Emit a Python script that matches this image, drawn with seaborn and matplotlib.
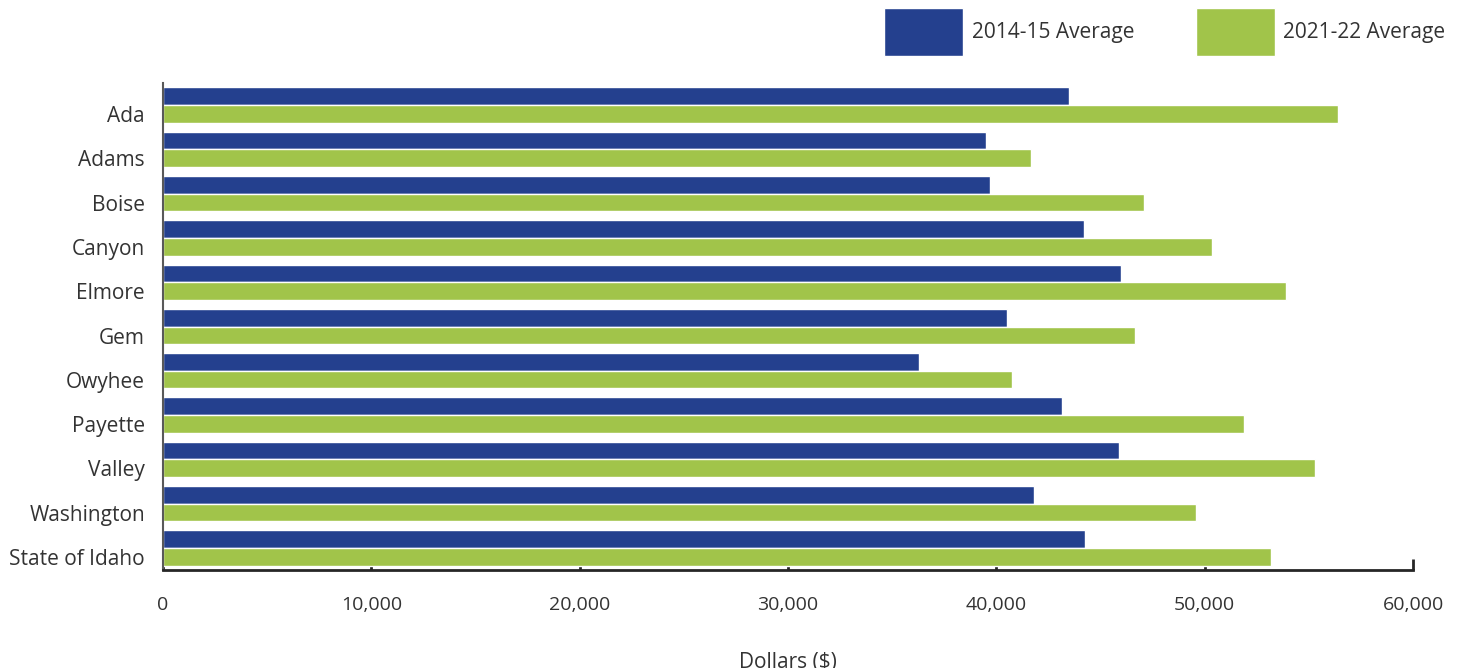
import numpy as np
import pandas as pd
import matplotlib
matplotlib.use("Agg")
import matplotlib.pyplot as plt
import matplotlib.transforms as mtransforms
from matplotlib.ticker import FuncFormatter
from matplotlib.patches import Patch
import seaborn as sns

# === Data ===
counties = ["Ada", "Adams", "Boise", "Canyon", "Elmore", "Gem", "Owyhee",
            "Payette", "Valley", "Washington", "State of Idaho"]
avg_2014_15 = [43500, 39500, 39700, 44200, 46000, 40500, 36300, 43150, 45900, 41800, 44250]
avg_2021_22 = [56400, 41650, 47100, 50350, 53900, 46650, 40750, 51900, 55300, 49600, 53200]
series_names = ["2014-15 Average", "2021-22 Average"]
x_ticks = [0, 10000, 20000, 30000, 40000, 50000, 60000]

# long form table for seaborn
df = pd.DataFrame({
    "County": counties * 2,
    "Dollars": avg_2014_15 + avg_2021_22,
    "Period": [series_names[0]] * len(counties) + [series_names[1]] * len(counties),
})

blue = "#24408E"
green = "#A1C44A"
text_col = "#333333"

sns.set_style("white")
plt.rcParams["font.family"] = ["Open Sans", "DejaVu Sans"]

fig = plt.figure(figsize=(14.65, 6.68), dpi=100)
ax = fig.add_axes([163 / 1465, 1 - 570 / 668, 1250 / 1465, 487 / 668])

sns.barplot(data=df, y="County", x="Dollars", hue="Period", order=counties,
            hue_order=series_names, palette=[blue, green], width=0.8,
            orient="h", legend=False, ax=ax, saturation=1)

ax.set_xlim(0, 60000)
ax.set_ylim(len(counties) - 0.5, -0.5)
ax.set_xticks(x_ticks)
ax.xaxis.set_major_formatter(FuncFormatter(lambda v, p: f"{int(v):,}"))

# spines
for s in ["top", "right"]:
    ax.spines[s].set_visible(False)
ax.spines["left"].set_color("#595959")
ax.spines["left"].set_linewidth(1.5)
ax.spines["bottom"].set_color("#262626")
ax.spines["bottom"].set_linewidth(2)

ax.tick_params(axis="x", bottom=True, direction="in", length=8, width=2,
               color="#262626", pad=19, labelsize=14, labelcolor=text_col)
ax.tick_params(axis="y", left=False, length=0, pad=13, labelsize=15, labelcolor=text_col)
for t in ax.xaxis.get_major_ticks():
    t.tick1line.set_zorder(5)

# category labels sit a bit lower, next to the green bar
offset = mtransforms.ScaledTranslation(0, -9 / 100, fig.dpi_scale_trans)
for lbl in ax.get_yticklabels():
    lbl.set_transform(lbl.get_transform() + offset)

ax.set_ylabel("")
ax.set_xlabel("Dollars ($)", fontsize=15, color=text_col, labelpad=27)

# legend at the top right with big colour blocks
handles = [Patch(facecolor=blue), Patch(facecolor=green)]
fig.legend(handles, series_names, loc="upper right", bbox_to_anchor=(0.995, 1.007),
           ncol=2, frameon=False, fontsize=15, handlelength=3.8, handleheight=3.2,
           handletextpad=0.4, columnspacing=2.95, labelcolor=text_col,
           borderaxespad=0.2)

fig.savefig("out.png", dpi=100)
